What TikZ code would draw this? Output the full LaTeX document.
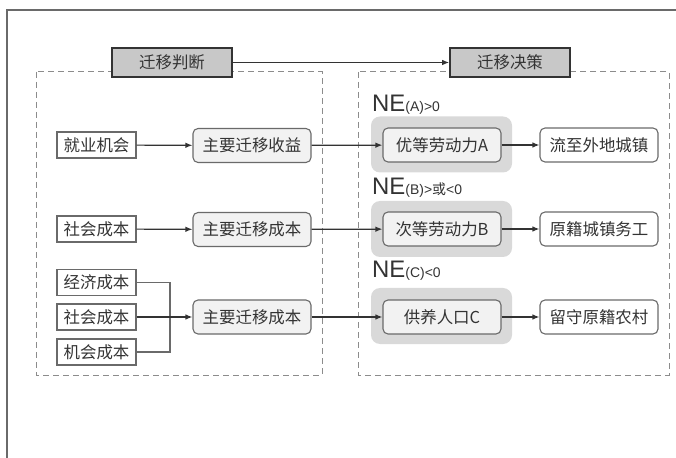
\documentclass[tikz,border=0pt]{standalone}
\usepackage{fontspec}
\setmainfont{Liberation Sans}
\newfontfamily\cjk{Noto Sans CJK SC}
\usetikzlibrary{arrows.meta}
\definecolor{txt}{HTML}{333333}
\definecolor{edge}{HTML}{6A6A6A}
\definecolor{hdrfill}{HTML}{C8C8C8}
\definecolor{bgfill}{HTML}{D9D9D9}
\definecolor{boxfill}{HTML}{F2F2F2}
\definecolor{dash}{HTML}{8C8C8C}
\tikzset{
  cn/.style={font=\cjk\fontsize{16.5}{18}\selectfont, text=txt, inner sep=0pt},
  hdr/.style={cn, draw=txt, line width=1.6pt, fill=hdrfill, minimum width=120bp, minimum height=29bp},
  srcbox/.style={cn, draw=edge, line width=1.1pt, fill=white, minimum width=79bp, minimum height=26bp},
  midbox/.style={cn, draw=edge, line width=1.1pt, fill=boxfill, rounded corners=5bp, minimum width=118bp, minimum height=34bp},
  grpbg/.style={fill=bgfill, rounded corners=9bp, minimum width=141bp, minimum height=56bp, inner sep=0pt},
  resbox/.style={cn, draw=edge, line width=1.1pt, fill=white, rounded corners=5bp, minimum width=118bp, minimum height=34bp},
  arr/.style={draw=txt, line width=1.2pt, -{Latex[length=7bp,width=5.5bp]}},
  brk/.style={draw=edge, line width=1.1pt},
  dashbox/.style={draw=dash, line width=1pt, dash pattern=on 6bp off 4bp},
  nelab/.style={text=txt, inner sep=0pt, anchor=base west},
}
\newcommand{\NElab}[1]{{\fontsize{24}{26}\selectfont NE}{\fontsize{14}{16}\selectfont #1}}
\begin{document}
\begin{tikzpicture}[x=1bp,y=-1bp]
\useasboundingbox (0,0) rectangle (676,458);
% outer frame
\draw[draw=edge, line width=1.4pt] (676,10) -- (7,10) -- (7,458);
% dashed regions
\draw[dashbox] (36,72) rectangle (322,375);
\draw[dashbox] (358,72) rectangle (669,375);
% headers
\node[hdr] (hj) at (172,62.5) {迁移判断};
\node[hdr] (hd) at (510,62.5) {迁移决策};
\draw[arr] (hj) -- (hd);
% group backgrounds
\node[grpbg] (bg1) at (441.5,144.5) {};
\node[grpbg] (bg2) at (441.5,229) {};
\node[grpbg] (bg3) at (441.5,316) {};
% NE labels
\node[nelab] (ne1) at (372,112) {\NElab{(A)>0}};
\node[nelab] (ne2) at (372,195) {\NElab{(B)>{\cjk 或}<0}};
\node[nelab] (ne3) at (372,278) {\NElab{(C)<0}};
% row 1
\node[srcbox] (in1) at (96.5,145) {就业机会};
\node[midbox] (m1) at (252,145.5) {主要迁移收益};
\node[midbox] (o1) at (442,145) {优等劳动力A};
\node[resbox] (r1) at (599,145) {流至外地城镇};
\draw[arr] (in1) -- (m1);
\draw[arr] (m1) -- (o1);
\draw[arr] (o1) -- (r1);
% row 2
\node[srcbox] (in2) at (96.5,229) {社会成本};
\node[midbox] (m2) at (252,229.5) {主要迁移成本};
\node[midbox] (o2) at (442,229) {次等劳动力B};
\node[resbox] (r2) at (599,229) {原籍城镇务工};
\draw[arr] (in2) -- (m2);
\draw[arr] (m2) -- (o2);
\draw[arr] (o2) -- (r2);
% row 3
\node[srcbox] (in3) at (96.5,282.5) {经济成本};
\node[srcbox] (in4) at (96.5,317) {社会成本};
\node[srcbox] (in5) at (96.5,352) {机会成本};
\node[midbox] (m3) at (252,317) {主要迁移成本};
\node[midbox] (o3) at (442,317) {供养人口C};
\node[resbox] (r3) at (599,317) {留守原籍农村};
\coordinate (jt) at (170,282.5);
\coordinate (jb) at (170,352);
\draw[brk] (in3.east) -- (jt) -- (jb) -- (in5.east);
\draw[arr] (in4) -- (m3);
\draw[arr] (m3) -- (o3);
\draw[arr] (o3) -- (r3);
\end{tikzpicture}
\end{document}
